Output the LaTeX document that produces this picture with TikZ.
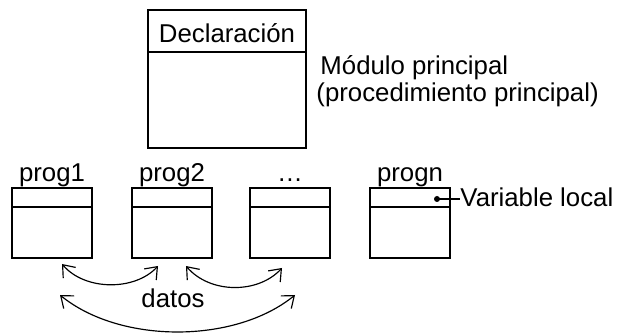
\documentclass[tikz,border=0pt]{standalone}
\usepackage{fontspec}
\setmainfont{Liberation Sans}
\usetikzlibrary{arrows.meta,calc}
\tikzset{
	caja/.style={draw, line width=0.8pt, minimum width=80*0.015cm, minimum height=70*0.015cm, inner sep=0pt},
	rotulo/.style={anchor=base, inner sep=0pt, font=\fontsize{11pt}{11.5pt}\selectfont},
	flecha/.style={{Straight Barb[length=4.5pt,width=7pt]}-{Straight Barb[length=4.5pt,width=7pt]}, line width=0.5pt}
}

\begin{document}
\begin{tikzpicture}[x=0.015cm, y=-0.015cm]
	%%%%% START %%%%%
	\useasboundingbox (0, 0) rectangle (618, 333);
	
	% modulo principal
	\node[caja, minimum width=158*0.015cm, minimum height=138*0.015cm] (mp) at (227, 79) {};
	\draw[line width=0.8pt] (148, 52) -- (306, 52);
	\node[rotulo] (decl) at (227, 43) {Declaración};
	\node[rotulo, anchor=base west] (nombre1) at (320, 75) {Módulo principal};
	\node[rotulo, anchor=base west] (nombre2) at (316, 102) {(procedimiento principal)};
	
	% subprogramas
	\foreach \x/\n/\t in {52/p1/prog1, 172/p2/prog2, 290/p3/\dots, 410/pn/progn}{
		\node[caja] (\n) at (\x, 223) {};
		\draw[line width=0.8pt] ($(\n.north west)+(0, 20)$) -- ($(\n.north east)+(0, 20)$);
		\node[rotulo] (\n-t) at (\x, 182) {\t};
	}
	
	% variable local
	\coordinate (vl) at (437, 199);
	\fill (vl) circle (3);
	\node[rotulo, anchor=base west] (vlt) at (460, 207) {Variable local};
	\draw[line width=0.6pt] (vl) -- (vlt.west |- vl);
	
	% datos
	\coordinate (a1) at (62, 264);
	\coordinate (b1) at (158, 266);
	\coordinate (a2) at (186, 266);
	\coordinate (b2) at (282, 268);
	\coordinate (a3) at (60, 295);
	\coordinate (b3) at (295, 295);
	\draw[flecha] (a1) .. controls (85, 291) and (135, 291) .. (b1);
	\draw[flecha] (a2) .. controls (210, 294) and (258, 294) .. (b2);
	\draw[flecha] (a3) .. controls (120, 344) and (235, 344) .. (b3);
	\node[rotulo] (datos) at (173, 308) {datos};
	%%%%% END %%%%%
\end{tikzpicture}
\end{document}
